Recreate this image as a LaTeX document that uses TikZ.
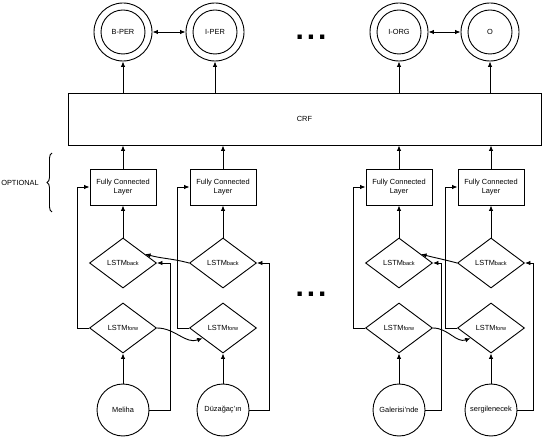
\documentclass[tikz,border=0pt]{standalone}
\usepackage{fontspec}
\setmainfont{Liberation Sans}
\usetikzlibrary{arrows.meta,shapes.geometric,calc,decorations.pathreplacing}
\begin{document}
\begin{tikzpicture}[x=1pt,y=-1pt,line width=0.9pt,
  >={Latex[length=5.5pt,width=4.5pt]},
  lbl/.style={font=\fontsize{7.4}{8.8}\selectfont},
  outc/.style={circle,draw,minimum size=58pt,inner sep=0pt},
  inc/.style={circle,draw,minimum size=44pt,inner sep=0pt,lbl},
  fcbox/.style={draw,minimum width=66pt,minimum height=36pt,inner sep=0pt,align=center,lbl},
  lstm/.style={diamond,draw,minimum width=67pt,minimum height=50pt,inner sep=0pt,lbl},
  word/.style={circle,draw,minimum size=52pt,inner sep=0pt,lbl},
  dots/.style={font=\fontsize{30}{30}\selectfont\bfseries,inner sep=0pt}]
\useasboundingbox (0,0) rectangle (546,438);
\newcommand{\bk}{{\fontsize{5.6}{6}\selectfont back}}
\newcommand{\fw}{{\fontsize{5.6}{6}\selectfont forw}}
% top tags
\foreach \n/\x/\t in {t1/123/B-PER,t2/215/I-PER,t3/399/I-ORG,t4/490/O}{
  \node[outc] (\n) at (\x,32) {};
  \node[inc] (\n i) at (\x,32) {\t};
}
\node[dots] (d1) at (311,37) {.\hspace{3pt}.\hspace{3pt}.};
% CRF
\node[draw,minimum width=473pt,minimum height=52pt,inner sep=0pt,lbl] (crf) at (304.5,119) {CRF};
% columns
\foreach \i/\x in {1/123,2/223,3/399,4/491}{
  \node[fcbox] (f\i) at (\x,187) {Fully Connected\\Layer};
  \node[lstm] (b\i) at (\x,263) {LSTM\bk};
  \node[lstm] (w\i) at (\x,328) {LSTM\fw};
}
\node[word] (c1) at (123,410) {Meliha};
\node[word] (c2) at (223,410) {Düzağaç'ın};
\node[word] (c3) at (399,410) {Galerisi'nde};
\node[word] (c4) at (491,410) {sergilenecek};
\node[dots] (d2) at (311,294) {.\hspace{3pt}.\hspace{3pt}.};
% optional
\node[lbl] (opt) at (20,183) {OPTIONAL};
\draw[decorate,decoration={brace,amplitude=5pt}] (52,212) -- (52,153);
% connections
\foreach \i in {1,2,3,4}{
  \draw[->] (c\i.north) -- (w\i.south);
  \draw[->] (b\i.north) -- (f\i.south);
  \draw[->] (w\i.west) -- ++(-12,0) |- (f\i.west);
  \draw[->] (f\i.north) -- (f\i.north |- crf.south);
  \draw[->] (t\i.south |- crf.north) -- (t\i.south);
}
\draw[->] (c1.east) -| ([xshift=13pt]b1.east) -- (b1.east);
\draw[->] (c2.east) -| ([xshift=12.5pt]b2.east) -- (b2.east);
\draw[->] (c3.east) -| ([xshift=8.5pt]b3.east) -- (b3.east);
\draw[->] (c4.east) -| ([xshift=8.5pt]b4.east) -- (b4.east);
\draw[<->] (t1.east) -- (t2.west);
\draw[<->] (t3.east) -- (t4.west);
% recurrent curves
\draw[->] (w1.east) to[out=0,in=200] ($(w2.west)!0.4!(w2.south)$);
\draw[->] (w3.east) to[out=0,in=200] ($(w4.west)!0.4!(w4.south)$);
\draw[->] (b2.west) to[out=165,in=-15] ($(b1.east)!0.35!(b1.north)$);
\draw[->] (b4.west) to[out=165,in=-15] ($(b3.east)!0.35!(b3.north)$);
\end{tikzpicture}
\end{document}
